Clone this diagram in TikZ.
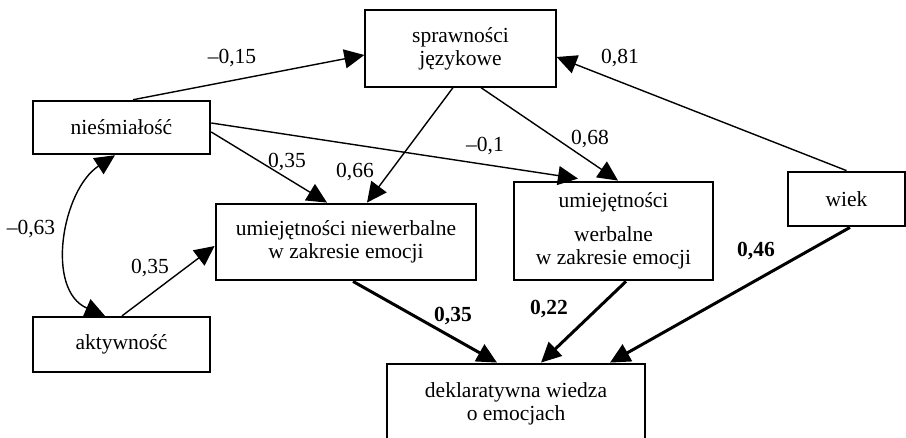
\documentclass[tikz,border=0pt]{standalone}
\usepackage{fontspec}
\setmainfont{Liberation Serif}
\usetikzlibrary{arrows.meta}
\begin{document}
\begin{tikzpicture}[x=1pt,y=1pt,
  every node/.style={font=\fontsize{21.5}{24}\selectfont},
  box/.style={draw, line width=2.8pt, align=center, inner sep=0pt},
  arr/.style={line width=1.4pt, -{Triangle[length=20pt,width=19pt]}},
  barr/.style={line width=3pt, -{Triangle[length=20pt,width=19pt]}},
  lab/.style={inner sep=0pt},
  blab/.style={inner sep=0pt, font=\fontsize{21.5}{24}\selectfont\bfseries}]
\useasboundingbox (0,0) rectangle (906,-438);
\node[box, line width=1.3pt, minimum width=191, minimum height=77] (sp) at (460.5,-48.5) {sprawności\\[-1pt]językowe};
\node[box, line width=2.5pt, minimum width=177, minimum height=53] (nies) at (121.5,-127.5) {nieśmiałość};
\node[box, line width=2.2pt, minimum width=177, minimum height=55] (akt) at (121.5,-344.5) {aktywność};
\node[box, minimum width=260, minimum height=76] (niew) at (346,-242) {umiejętności niewerbalne\\[-1pt]w zakresie emocji};
\node[box, minimum width=199, minimum height=98] (werb) at (613.5,-231) {umiejętności\\[10pt]werbalne\\[-1pt]w zakresie emocji};
\node[box, minimum width=117, minimum height=54] (wiek) at (846.5,-199) {wiek};
\node[box, minimum width=258, minimum height=80] (dek) at (516,-404) {deklaratywna wiedza\\[-1pt]o emocjach};

\draw[arr] ([xshift=11.5]nies.north) -- ([yshift=-6.5]sp.west);
\draw[arr] ([xshift=-7.5]sp.south) -- ([xshift=21]niew.north);
\draw[arr] ([xshift=20.5]sp.south) -- ([xshift=4.5]werb.north);
\draw[arr] ([yshift=-4.5]nies.east) -- ([xshift=-19]niew.north);
\draw[arr] ([yshift=4.5]nies.east) -- ([xshift=-35.5,yshift=2]werb.north);
\draw[arr] (wiek.north) -- ([yshift=-8.5]sp.east);
\draw[arr] ([xshift=0.5]akt.north) -- ([yshift=-4]niew.west);
\draw[line width=1.4pt, {Triangle[length=20pt,width=19pt]}-{Triangle[length=20pt,width=19pt]}]
  ([xshift=-6.5]nies.south) .. controls (62,-190) and (45,-290) .. ([xshift=-16.5]akt.north);
\draw[barr] ([xshift=7]niew.south) -- ([xshift=-19]dek.north);
\draw[barr] ([xshift=12.5]werb.south) -- ([xshift=25]dek.north);
\draw[barr] ([xshift=3.5]wiek.south) -- ([xshift=94]dek.north);

\node[lab] (l1) at (232,-58) {–0,15};
\node[lab] (l2) at (355,-172) {0,66};
\node[lab] (l3) at (590,-139) {0,68};
\node[lab] (l4) at (287,-162) {0,35};
\node[lab] (l5) at (485,-146) {–0,1};
\node[lab] (l6) at (620,-58) {0,81};
\node[lab] (l7) at (31,-229) {–0,63};
\node[lab] (l8) at (150,-268) {0,35};
\node[blab] (l9) at (453,-316) {0,35};
\node[blab] (l10) at (549,-309) {0,22};
\node[blab] (l11) at (756,-251) {0,46};
\end{tikzpicture}
\end{document}
